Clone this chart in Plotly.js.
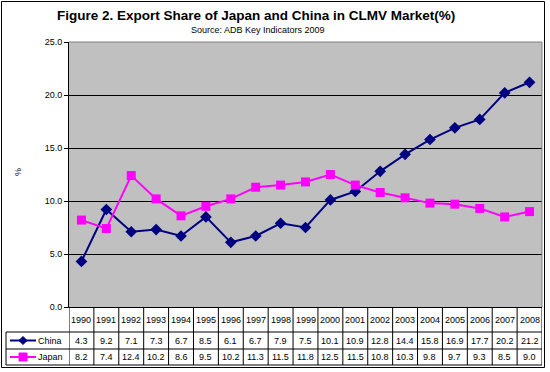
<!DOCTYPE html>
<html>
<head>
<meta charset="utf-8">
<script src="https://cdn.plot.ly/plotly-3.0.1.min.js"></script>
<style>html,body{margin:0;padding:0;background:#fff;}#chart{width:550px;height:372px;}</style>
</head>
<body>
<div id="chart"></div>
<script>
const years = ['1990','1991','1992','1993','1994','1995','1996','1997','1998','1999','2000','2001','2002','2003','2004','2005','2006','2007','2008'];
const china = [4.3, 9.2, 7.1, 7.3, 6.7, 8.5, 6.1, 6.7, 7.9, 7.5, 10.1, 10.9, 12.8, 14.4, 15.8, 16.9, 17.7, 20.2, 21.2];
const japan = [8.2, 7.4, 12.4, 10.2, 8.6, 9.5, 10.2, 11.3, 11.5, 11.8, 12.5, 11.5, 10.8, 10.3, 9.8, 9.7, 9.3, 8.5, 9.0];
const seriesNames = ['China', 'Japan'];
const yTicks = [0, 5, 10, 15, 20, 25];

const W = 550, H = 372;
const L = 69, R = 542, T = 42, B = 307;
const px = v => (v - L) / (R - L);
const py = v => (B - v) / (B - T);

const NAVY = '#000080', MAG = '#FF00FF';
const FONT = 'Liberation Sans, Arial, sans-serif';

const traces = [
  {x: years, y: china, name: seriesNames[0], type: 'scatter', mode: 'lines+markers',
   line: {color: NAVY, width: 2}, marker: {symbol: 'diamond', size: 9, color: NAVY}},
  {x: years, y: japan, name: seriesNames[1], type: 'scatter', mode: 'lines+markers',
   line: {color: MAG, width: 2}, marker: {symbol: 'square', size: 9, color: MAG}}
];

const shapes = [];
const annotations = [];
const rowYear = [307, 332], rowC = [332, 349], rowJ = [349, 365];

// outer border
shapes.push({type: 'rect', xref: 'paper', yref: 'paper', x0: px(1.5), x1: px(544.5), y0: py(1.5), y1: py(367.5),
  line: {color: '#000', width: 1}, layer: 'below'});
// plot right/top border in gray
shapes.push({type: 'line', xref: 'paper', yref: 'paper', x0: 1, x1: 1, y0: 0, y1: 1, line: {color: '#808080', width: 1}});
shapes.push({type: 'line', xref: 'paper', yref: 'paper', x0: 0, x1: 1, y0: 1, y1: 1, line: {color: '#808080', width: 1}});

// table vertical lines
for (let k = 0; k <= years.length; k++) {
  shapes.push({type: 'line', xref: 'x', yref: 'paper', x0: k - 0.5, x1: k - 0.5, y0: py(rowYear[0]), y1: py(rowJ[1]),
    line: {color: '#000', width: 1}});
}
// table horizontal lines and left edge
[rowC[0], rowJ[0], rowJ[1]].forEach(v => {
  shapes.push({type: 'line', xref: 'paper', yref: 'paper', x0: px(6), x1: 1, y0: py(v), y1: py(v), line: {color: '#000', width: 1}});
});
shapes.push({type: 'line', xref: 'paper', yref: 'paper', x0: px(6), x1: px(6), y0: py(rowC[0]), y1: py(rowJ[1]), line: {color: '#000', width: 1}});

// legend samples
const midC = (rowC[0] + rowC[1]) / 2, midJ = (rowJ[0] + rowJ[1]) / 2;
shapes.push({type: 'line', xref: 'paper', yref: 'paper', x0: px(10), x1: px(36), y0: py(midC), y1: py(midC), line: {color: NAVY, width: 2}});
shapes.push({type: 'path', xref: 'paper', yref: 'paper',
  path: `M ${px(23)} ${py(midC - 4)} L ${px(27)} ${py(midC)} L ${px(23)} ${py(midC + 4)} L ${px(19)} ${py(midC)} Z`,
  fillcolor: NAVY, line: {color: NAVY, width: 1}});
shapes.push({type: 'line', xref: 'paper', yref: 'paper', x0: px(10), x1: px(36), y0: py(midJ), y1: py(midJ), line: {color: MAG, width: 2}});
shapes.push({type: 'rect', xref: 'paper', yref: 'paper', x0: px(19), x1: px(27), y0: py(midJ - 4), y1: py(midJ + 4),
  fillcolor: MAG, line: {color: MAG, width: 1}});

const tf = {family: FONT, size: 9, color: '#000'};
annotations.push({xref: 'paper', yref: 'paper', x: px(36), y: py(midC), text: seriesNames[0], showarrow: false, xanchor: 'left', yanchor: 'middle', font: tf});
annotations.push({xref: 'paper', yref: 'paper', x: px(36), y: py(midJ), text: seriesNames[1], showarrow: false, xanchor: 'left', yanchor: 'middle', font: tf});

const midY = (rowYear[0] + rowYear[1]) / 2;
years.forEach((yr, i) => {
  annotations.push({xref: 'x', yref: 'paper', x: i, y: py(midY), text: yr, showarrow: false, yanchor: 'middle', font: tf});
  annotations.push({xref: 'x', yref: 'paper', x: i, y: py(midC), text: china[i].toFixed(1), showarrow: false, yanchor: 'middle', font: tf});
  annotations.push({xref: 'x', yref: 'paper', x: i, y: py(midJ), text: japan[i].toFixed(1), showarrow: false, yanchor: 'middle', font: tf});
});

// titles
annotations.push({xref: 'paper', yref: 'paper', x: px(256), y: py(15), text: '<b>Figure 2. Export Share of Japan and China in CLMV Market(%)</b>',
  showarrow: false, xanchor: 'center', yanchor: 'middle', font: {family: FONT, size: 13.5, color: '#000'}});
annotations.push({xref: 'paper', yref: 'paper', x: px(258), y: py(30), text: 'Source: ADB Key Indicators 2009',
  showarrow: false, xanchor: 'center', yanchor: 'middle', font: {family: FONT, size: 9, color: '#000'}});
annotations.push({xref: 'paper', yref: 'paper', x: px(18), y: py(172), text: '%', textangle: -90,
  showarrow: false, xanchor: 'center', yanchor: 'middle', font: {family: FONT, size: 9, color: '#000'}});

const layout = {
  width: W, height: H,
  margin: {l: L, r: W - R, t: T, b: H - B, pad: 0},
  paper_bgcolor: '#fff', plot_bgcolor: '#C0C0C0',
  showlegend: false,
  xaxis: {type: 'category', categoryarray: years, range: [-0.5, years.length - 0.5], showticklabels: false,
    ticks: '', showgrid: false, zeroline: false, showline: true, linecolor: '#000', linewidth: 1, fixedrange: true},
  yaxis: {range: [0, 25], tickvals: yTicks, tickformat: '.1f', ticks: 'outside', ticklen: 4, tickcolor: '#000', tickwidth: 1,
    showline: true, linecolor: '#000', linewidth: 1, showgrid: true, gridcolor: '#000', gridwidth: 1, zeroline: false,
    tickfont: {family: FONT, size: 9, color: '#000'}, fixedrange: true},
  shapes: shapes, annotations: annotations
};

Plotly.newPlot('chart', traces, layout, {displayModeBar: false, staticPlot: true});
</script>
</body>
</html>
